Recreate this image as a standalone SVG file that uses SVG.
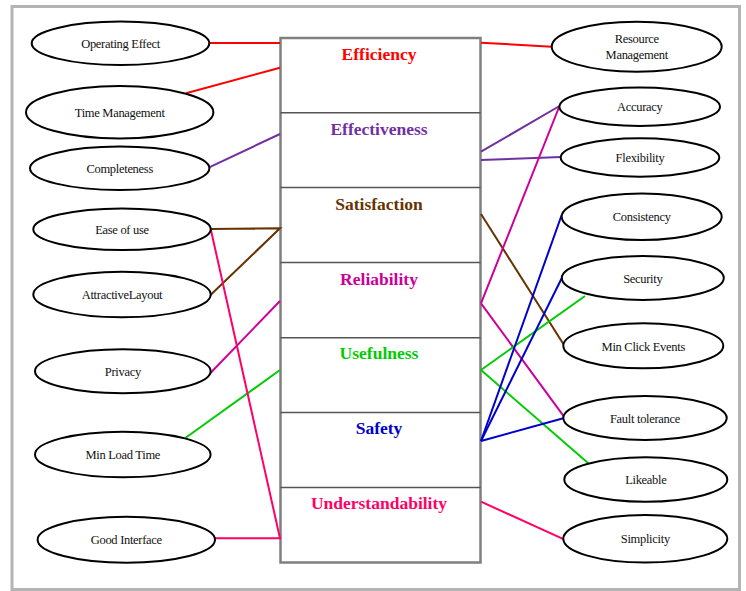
<svg xmlns="http://www.w3.org/2000/svg" width="746" height="591" viewBox="0 0 746 591">
<style>
.e{fill:#fff;stroke:#000;stroke-width:2}
.t{font-family:"Liberation Serif","Times New Roman",serif;font-size:12.5px;fill:#111;text-anchor:middle;letter-spacing:-0.3px}
.h{font-family:"Liberation Serif","Times New Roman",serif;font-size:17.5px;font-weight:bold;text-anchor:middle}
.c line,.c polyline{stroke-width:2;fill:none}
.div{stroke:#555;stroke-width:1.5}
</style>
<rect x="0" y="0" width="746" height="591" fill="#fff"/>
<rect x="12" y="6.5" width="727.5" height="583" fill="#fff" stroke="#b4b4b4" stroke-width="3"/>

<g id="quality-box">
<rect x="280.5" y="38" width="200" height="524.5" fill="#fff" stroke="#7f7f7f" stroke-width="2.5"/>
<line class="div" x1="280.5" y1="112.8" x2="480.5" y2="112.8"/>
<line class="div" x1="280.5" y1="187.5" x2="480.5" y2="187.5"/>
<line class="div" x1="280.5" y1="262.5" x2="480.5" y2="262.5"/>
<line class="div" x1="280.5" y1="337.7" x2="480.5" y2="337.7"/>
<line class="div" x1="280.5" y1="412.5" x2="480.5" y2="412.5"/>
<line class="div" x1="280.5" y1="487.5" x2="480.5" y2="487.5"/>
</g>
<g id="box-efficiency"><text class="h" x="379" y="60" fill="#ff0000">Efficiency</text></g>
<g id="box-effectiveness"><text class="h" x="379" y="135" fill="#7030a0">Effectiveness</text></g>
<g id="box-satisfaction"><text class="h" x="379" y="210" fill="#663300">Satisfaction</text></g>
<g id="box-reliability"><text class="h" x="379" y="285" fill="#cc0099">Reliability</text></g>
<g id="box-usefulness"><text class="h" x="379" y="359" fill="#00cc00">Usefulness</text></g>
<g id="box-safety"><text class="h" x="379" y="434" fill="#0000cc">Safety</text></g>
<g id="box-understandability"><text class="h" x="379" y="509" fill="#ff0066">Understandability</text></g>

<g id="connectors" class="c">
<line x1="209" y1="43" x2="280" y2="43" stroke="#ff0000"/>
<line x1="186" y1="93.3" x2="280" y2="67.7" stroke="#ff0000"/>
<line x1="481" y1="42.7" x2="552" y2="46.7" stroke="#ff0000"/>
<line x1="207" y1="168.3" x2="280" y2="134" stroke="#7030a0"/>
<line x1="481" y1="151.7" x2="559.5" y2="106" stroke="#7030a0"/>
<line x1="481" y1="160" x2="561" y2="157" stroke="#7030a0"/>
<polyline points="210.7,229 280,228.3 210.5,295" stroke="#663300"/>
<line x1="481" y1="214" x2="564" y2="345" stroke="#663300"/>
<line x1="210.7" y1="372.7" x2="280" y2="301" stroke="#cc0099"/>
<line x1="481" y1="303.3" x2="559.5" y2="106" stroke="#cc0099"/>
<line x1="481" y1="303.3" x2="564" y2="416.7" stroke="#cc0099"/>
<line x1="185" y1="438.3" x2="280" y2="370" stroke="#00cc00"/>
<line x1="481" y1="370" x2="585" y2="296" stroke="#00cc00"/>
<line x1="481" y1="370" x2="588.3" y2="463.3" stroke="#00cc00"/>
<line x1="481" y1="441" x2="561.7" y2="215" stroke="#0000cc"/>
<line x1="481" y1="441" x2="561.7" y2="278.3" stroke="#0000cc"/>
<line x1="481" y1="441" x2="563.3" y2="418.3" stroke="#0000cc"/>
<polyline points="210.7,229 280,538.3 215,538.3" stroke="#ff0066"/>
<line x1="481" y1="501.7" x2="564" y2="539.3" stroke="#ff0066"/>
</g>

<g id="operating-effect"><ellipse class="e" cx="120.5" cy="43.3" rx="88.8" ry="21.7"/><text class="t" x="120.5" y="47.5">Operating Effect</text></g>
<g id="time-management"><ellipse class="e" cx="119.7" cy="112.2" rx="93.7" ry="26.2"/><text class="t" x="119.7" y="116.5">Time Management</text></g>
<g id="completeness"><ellipse class="e" cx="119.7" cy="168.3" rx="89.7" ry="21.7"/><text class="t" x="119.7" y="172.5">Completeness</text></g>
<g id="ease-of-use"><ellipse class="e" cx="122" cy="229.2" rx="88.7" ry="20.8"/><text class="t" x="122" y="233.5">Ease of use</text></g>
<g id="attractive-layout"><ellipse class="e" cx="122" cy="294.5" rx="88.7" ry="22.8"/><text class="t" x="122" y="299">AttractiveLayout</text></g>
<g id="privacy"><ellipse class="e" cx="122.8" cy="371.2" rx="87.8" ry="22"/><text class="t" x="122.8" y="376">Privacy</text></g>
<g id="min-load-time"><ellipse class="e" cx="122.8" cy="454.5" rx="87.8" ry="22.8"/><text class="t" x="122.8" y="459">Min Load Time</text></g>
<g id="good-interface"><ellipse class="e" cx="126.3" cy="539.7" rx="88.7" ry="23"/><text class="t" x="126.3" y="544">Good Interface</text></g>

<g id="resource-management"><ellipse class="e" cx="636.7" cy="46.7" rx="85" ry="25"/><text class="t" x="636.7" y="43">Resource</text><text class="t" x="636.7" y="59">Management</text></g>
<g id="accuracy"><ellipse class="e" cx="639.7" cy="106.7" rx="80.3" ry="19.3"/><text class="t" x="639.7" y="111">Accuracy</text></g>
<g id="flexibility"><ellipse class="e" cx="640" cy="157.5" rx="79.3" ry="19.2"/><text class="t" x="640" y="162">Flexibility</text></g>
<g id="consistency"><ellipse class="e" cx="641.7" cy="216.7" rx="80" ry="23.3"/><text class="t" x="641.7" y="221">Consistency</text></g>
<g id="security"><ellipse class="e" cx="642.8" cy="278" rx="81" ry="22"/><text class="t" x="642.8" y="282.5">Security</text></g>
<g id="min-click-events"><ellipse class="e" cx="643.3" cy="345.8" rx="80" ry="22.5"/><text class="t" x="643.3" y="350.5">Min Click Events</text></g>
<g id="fault-tolerance"><ellipse class="e" cx="645" cy="418" rx="81.7" ry="22"/><text class="t" x="645" y="422.5">Fault tolerance</text></g>
<g id="likeable"><ellipse class="e" cx="645.8" cy="479.5" rx="81.5" ry="22.2"/><text class="t" x="645.8" y="484">Likeable</text></g>
<g id="simplicity"><ellipse class="e" cx="645.3" cy="538.8" rx="82" ry="23.8"/><text class="t" x="645.3" y="543">Simplicity</text></g>
</svg>
